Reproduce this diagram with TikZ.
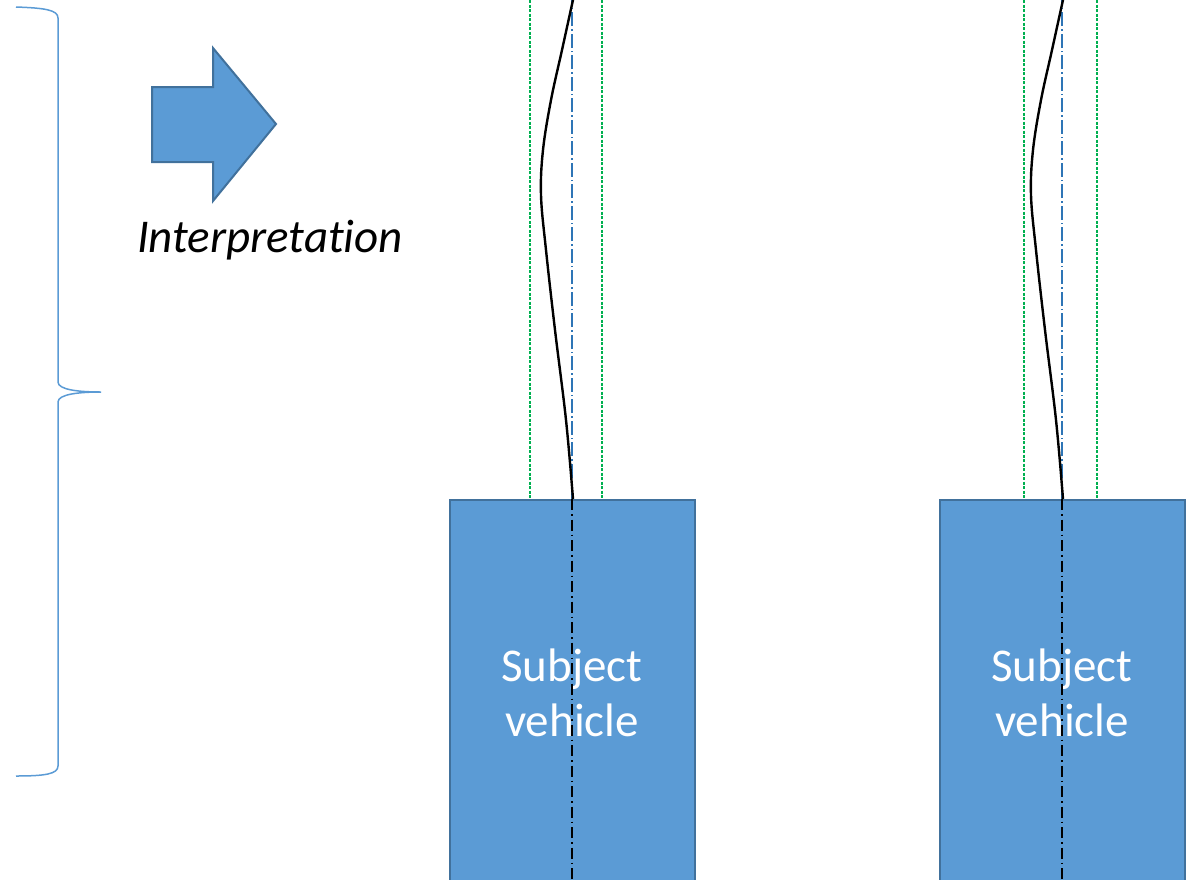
\documentclass[tikz,border=0pt]{standalone}
\usepackage{fontspec}
\setmainfont{Carlito}[Ligatures=NoCommon]
\usetikzlibrary{calc}
\definecolor{boxblue}{HTML}{5B9BD5}
\definecolor{boxedge}{HTML}{41719C}
\definecolor{axisblue}{HTML}{2E75B6}
\definecolor{laneline}{HTML}{00B050}
\tikzset{
  vehicle/.style={draw=boxedge, line width=2pt, fill=boxblue, minimum width=245pt,
    minimum height=385pt, anchor=north, inner sep=0pt, text=white,
    font=\fontsize{47}{55}\selectfont, align=center},
  bracestyle/.style={draw=boxblue, line width=1.5pt},
  arrowshape/.style={draw=boxedge, line width=2pt, fill=boxblue, line join=miter},
  centreaxis/.style={draw=axisblue, line width=1.2pt, dash pattern=on 14pt off 3pt on 1.5pt off 3pt},
  innerAxis/.style={draw=black, line width=1.2pt, dash pattern=on 11pt off 4pt on 1.5pt off 4pt},
  lanebound/.style={draw=laneline, line width=1.3pt, dash pattern=on 3pt off 1.5pt},
  pathcurve/.style={draw=black, line width=2.4pt},
}
\begin{document}
\begin{tikzpicture}[x=1pt,y=-1pt]
  \useasboundingbox (0,0) rectangle (1202,879);
  \clip (0,0) rectangle (1202,879);
  \coordinate (top) at (0,0);

  % curly brace on the left
  \path[bracestyle] (16,7) .. controls (45,8) and (58,10) .. (58,18) -- (58,382)
    .. controls (58,390) and (80,392) .. (101,392)
    .. controls (80,392) and (58,394) .. (58,402) -- (58,766)
    .. controls (58,774) and (45,776) .. (16,776);

  % block arrow and caption
  \path[arrowshape] (152,87) -- (213,87) -- (213,48) -- (276,124) -- (213,201)
    -- (213,162) -- (152,162) -- cycle;
  \node[font=\itshape\fontsize{47}{55}\selectfont, anchor=center] (caption) at (270,240) {Interpretation};

  % the two vehicles with lane boundaries, axis and driven path
  \foreach \cx/\gl/\gr/\n in {572/530/602/1, 1062/1024/1097/2}{
    \draw[lanebound] (\gl,0) -- (\gl,499);
    \draw[lanebound] (\gr,0) -- (\gr,499);
    \node[vehicle] (veh\n) at (\cx,499) {Subject\\vehicle};
    \draw[centreaxis] (veh\n.north) -- (veh\n.north |- top);
    \draw[innerAxis] (veh\n.north) -- (veh\n.south);
    \draw[pathcurve] plot[smooth, tension=0.6] coordinates {
      (\cx+1,499) (\cx-6,420) (\cx-17,330) (\cx-26,250) (\cx-31,195) (\cx-29,150)
      (\cx-21,100) (\cx-10,50) (\cx+1,0) (\cx+4,-12)};
  }
\end{tikzpicture}
\end{document}
